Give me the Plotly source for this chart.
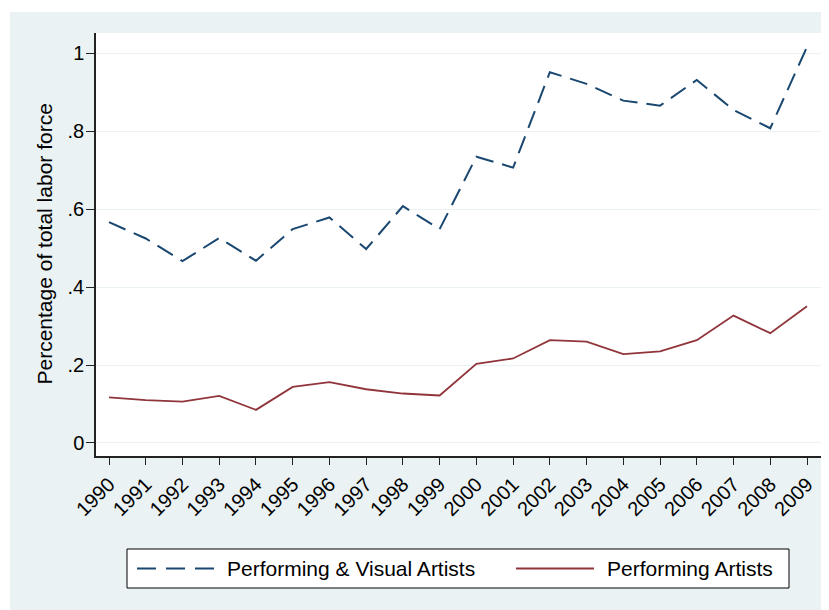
import plotly.graph_objects as go

years = list(range(1990, 2010))
year_labels = [str(y) for y in years]
perf_visual = [0.567, 0.525, 0.467, 0.526, 0.468, 0.549, 0.579, 0.498, 0.608, 0.549,
               0.735, 0.707, 0.952, 0.922, 0.879, 0.866, 0.932, 0.855, 0.808, 1.017]
perf_only = [0.117, 0.110, 0.106, 0.121, 0.085, 0.144, 0.156, 0.138, 0.127, 0.122,
             0.203, 0.217, 0.264, 0.260, 0.228, 0.235, 0.264, 0.327, 0.282, 0.351]
series_names = ["Performing & Visual Artists", "Performing Artists"]
y_ticks = [0, 0.2, 0.4, 0.6, 0.8, 1.0]
y_tick_labels = ["0", ".2", ".4", ".6", ".8", "1"]

BLUE = "#1a476f"
RED = "#90353b"
BG = "#eaf2f3"
FONT = "Liberation Sans, Arial, sans-serif"

fig = go.Figure()
fig.add_trace(go.Scatter(x=years, y=perf_visual, mode="lines", name=series_names[0],
                         line=dict(color=BLUE, width=2, dash="18px,9px"), showlegend=False))
fig.add_trace(go.Scatter(x=years, y=perf_only, mode="lines", name=series_names[1],
                         line=dict(color=RED, width=1.8), showlegend=False))

OFF = 8  # default page margin of the html body
W, H = 829, 610
L, T = 96 - OFF, 33 - OFF
R = W - (821 - OFF)
B = H - (456 - OFF)
pw, ph = W - L - R, H - T - B


def px(x):
    return (x - OFF - L) / pw


def py(y):
    return (H - B - (y - OFF)) / ph


shapes = [
    # white strips at top and left of the page
    dict(type="rect", xref="paper", yref="paper", x0=px(-20), x1=px(W + 40), y0=py(12), y1=py(-20),
         fillcolor="white", line=dict(width=0), layer="below"),
    dict(type="rect", xref="paper", yref="paper", x0=px(-20), x1=px(10), y0=py(H + 40), y1=py(-20),
         fillcolor="white", line=dict(width=0), layer="below"),
    # legend box
    dict(type="rect", xref="paper", yref="paper", x0=px(127), x1=px(789), y0=py(588), y1=py(549),
         fillcolor="white", line=dict(color="black", width=1)),
    dict(type="line", xref="paper", yref="paper", x0=px(137), x1=px(215), y0=py(568.5), y1=py(568.5),
         line=dict(color=BLUE, width=2, dash="19px,10px")),
    dict(type="line", xref="paper", yref="paper", x0=px(516), x1=px(594), y0=py(568.5), y1=py(568.5),
         line=dict(color=RED, width=1.8)),
]
annotations = [
    dict(text=series_names[0], xref="paper", yref="paper", x=px(225), y=py(568.5),
         xanchor="left", yanchor="middle", showarrow=False, font=dict(family=FONT, size=21, color="black")),
    dict(text=series_names[1], xref="paper", yref="paper", x=px(605), y=py(568.5),
         xanchor="left", yanchor="middle", showarrow=False, font=dict(family=FONT, size=21, color="black")),
    dict(text="Percentage of total labor force", xref="paper", yref="paper", x=px(44), y=0.5,
         xanchor="center", yanchor="middle", textangle=-90, showarrow=False,
         font=dict(family=FONT, size=21, color="black")),
]

fig.update_layout(
    width=W, height=H,
    margin=dict(l=L, r=R, t=T, b=B, pad=0),
    paper_bgcolor=BG, plot_bgcolor="white",
    font=dict(family=FONT, color="black", size=19),
    shapes=shapes, annotations=annotations,
    xaxis=dict(range=[1989.646, 2009.381], tickmode="array", tickvals=years, ticktext=year_labels,
               tickangle=-45, ticks="outside", ticklen=7, tickwidth=1.2, tickcolor="#222",
               showline=True, linecolor="#222", linewidth=1.5, showgrid=False, zeroline=False,
               tickfont=dict(size=20)),
    yaxis=dict(range=[-0.0334, 1.0526], tickmode="array", tickvals=y_ticks, ticktext=y_tick_labels,
               ticks="outside", ticklen=8, tickwidth=1.2, tickcolor="#222",
               showline=True, linecolor="#222", linewidth=1.5, showgrid=True, gridcolor=BG, gridwidth=1.2,
               zeroline=False, tickfont=dict(size=20), ticklabelstandoff=-2),
)

fig.write_html("out.html")
